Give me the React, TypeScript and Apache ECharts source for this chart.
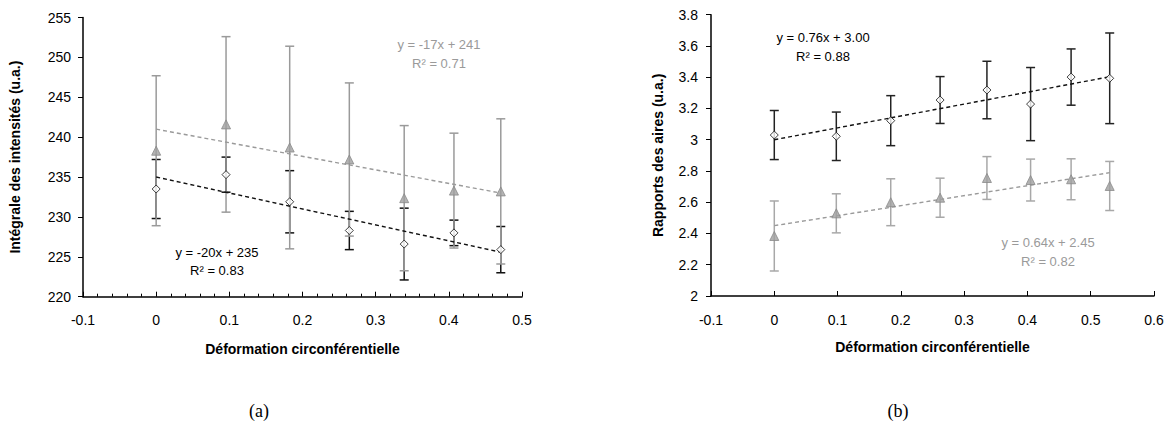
import React, { useEffect, useRef } from "react";
import * as echarts from "echarts";

// ---- Data: panel (a) ----
const xA = [0, 0.0955, 0.1825, 0.264, 0.339, 0.407, 0.471];
const intensBlack = [233.5, 235.3, 231.9, 228.3, 226.6, 228.0, 225.9];
const intensBlackErr = [3.7, 2.2, 3.9, 2.4, 4.5, 1.6, 2.9];
const intensGrey = [238.3, 241.6, 238.7, 237.2, 232.35, 233.3, 233.2];
const intensGreyErr = [9.4, 11.0, 12.7, 9.6, 9.1, 7.2, 9.1];
const fitA = { black: [-20, 235], grey: [-17, 241] };

// ---- Data: panel (b) ----
const xB = [0, 0.098, 0.184, 0.262, 0.336, 0.405, 0.469, 0.53];
const ratioBlack = [3.03, 3.022, 3.122, 3.254, 3.318, 3.228, 3.401, 3.393];
const ratioBlackErr = [0.157, 0.155, 0.16, 0.15, 0.184, 0.234, 0.18, 0.29];
const ratioGrey = [2.384, 2.529, 2.6, 2.629, 2.755, 2.742, 2.747, 2.704];
const ratioGreyErr = [0.224, 0.125, 0.15, 0.125, 0.137, 0.134, 0.131, 0.157];
const fitB = { black: [0.76, 3.0], grey: [0.64, 2.45] };

const labelsA = { blackEq: "y = -20x + 235", blackR2: "R² = 0.83", greyEq: "y = -17x + 241", greyR2: "R² = 0.71" };
const labelsB = { blackEq: "y = 0.76x + 3.00", blackR2: "R² = 0.88", greyEq: "y = 0.64x + 2.45", greyR2: "R² = 0.82" };

const FONT = "Liberation Sans, Arial, sans-serif";
const SERIF = "Liberation Serif, DejaVu Serif, serif";
const BLACK = "#111";
const GREY = "#9a9a9a";

function errData(xs: number[], ys: number[], es: number[]) {
  return xs.map((x, i) => [x, ys[i] - es[i], ys[i] + es[i]]);
}

function errSeries(data: number[][], color: string, idx: number, z: number) {
  return {
    type: "custom",
    xAxisIndex: idx,
    yAxisIndex: idx,
    z,
    silent: true,
    encode: { x: 0, y: [1, 2] },
    data,
    renderItem: (params: any, api: any) => {
      const x = api.value(0);
      const lo = api.value(1);
      const hi = api.value(2);
      const p1 = api.coord([x, hi]);
      const p2 = api.coord([x, lo]);
      const w = 4.5;
      const style = { stroke: color, lineWidth: 1.5 };
      return {
        type: "group",
        children: [
          { type: "line", shape: { x1: p1[0], y1: p1[1], x2: p2[0], y2: p2[1] }, style },
          { type: "line", shape: { x1: p1[0] - w, y1: p1[1], x2: p1[0] + w, y2: p1[1] }, style },
          { type: "line", shape: { x1: p2[0] - w, y1: p2[1], x2: p2[0] + w, y2: p2[1] }, style },
        ],
      };
    },
  };
}

function fitSeries(xs: number[], fit: number[], color: string, idx: number) {
  const x0 = xs[0];
  const x1 = xs[xs.length - 1];
  return {
    type: "line",
    xAxisIndex: idx,
    yAxisIndex: idx,
    z: 3,
    symbol: "none",
    silent: true,
    data: [
      [x0, fit[0] * x0 + fit[1]],
      [x1, fit[0] * x1 + fit[1]],
    ],
    lineStyle: { color, width: 1.4, type: [4, 3] },
  };
}

function pointSeries(xs: number[], ys: number[], kind: "black" | "grey", idx: number) {
  return {
    type: "scatter",
    xAxisIndex: idx,
    yAxisIndex: idx,
    z: 5,
    silent: true,
    symbol: kind === "black" ? "diamond" : "triangle",
    symbolSize: kind === "black" ? 8 : 9,
    itemStyle:
      kind === "black"
        ? { color: "#fff", borderColor: BLACK, borderWidth: 1 }
        : { color: "#a0a0a0", borderColor: "#8a8a8a", borderWidth: 1 },
    data: xs.map((x, i) => [x, ys[i]]),
  };
}

function xAxisCfg(idx: number, max: number, minor: boolean, nameGap: number, margin: number) {
  return {
    type: "value",
    gridIndex: idx,
    min: -0.1,
    max,
    interval: 0.1,
    name: "Déformation circonférentielle",
    nameLocation: "middle",
    nameGap,
    nameTextStyle: { fontFamily: FONT, fontSize: 14, fontWeight: "bold", color: "#000" },
    axisLine: { show: true, onZero: false, lineStyle: { color: "#000", width: 1.5 } },
    axisTick: { show: true, inside: true, length: 5, lineStyle: { color: "#000", width: 1 } },
    minorTick: { show: minor, splitNumber: 5, length: 3, lineStyle: { color: "#000", width: 1 } },
    splitLine: { show: false },
    minorSplitLine: { show: false },
    axisLabel: { fontFamily: FONT, fontSize: 14, color: "#000", margin },
  };
}

function yAxisCfg(idx: number, min: number, max: number, interval: number, name: string, nameGap: number, margin: number) {
  return {
    type: "value",
    gridIndex: idx,
    min,
    max,
    interval,
    name,
    nameLocation: "middle",
    nameGap,
    nameTextStyle: { fontFamily: FONT, fontSize: 14, fontWeight: "bold", color: "#000" },
    axisLine: { show: true, onZero: false, lineStyle: { color: "#000", width: 1.5 } },
    axisTick: { show: true, inside: false, length: 5, lineStyle: { color: "#000", width: 1 } },
    splitLine: { show: false },
    axisLabel: { fontFamily: FONT, fontSize: 14, color: "#000", margin },
  };
}

function txt(x: number, y: number, s: string, color: string, size = 13, family = FONT) {
  return {
    type: "text",
    x,
    y,
    silent: true,
    style: { text: s, fill: color, font: `${size}px ${family}`, textAlign: "center", textVerticalAlign: "middle" },
  };
}

export default function App() {
  const ref = useRef<HTMLDivElement>(null);
  useEffect(() => {
    document.body.style.margin = "0";
    if (!ref.current) return;
    const chart = echarts.init(ref.current, undefined, { renderer: "svg" });
    chart.setOption({
      animation: false,
      backgroundColor: "#fff",
      grid: [
        { left: 83, top: 17.5, width: 439, height: 279.2 },
        { left: 711, top: 14.7, width: 443, height: 281.3 },
      ],
      xAxis: [xAxisCfg(0, 0.5, true, 45, 16), xAxisCfg(1, 0.6, false, 44, 17)],
      yAxis: [
        yAxisCfg(0, 220, 255, 5, "Intégrale des intensités (u.a.)", 61, 12),
        yAxisCfg(1, 2, 3.8, 0.2, "Rapports des aires (u.a.)", 46, 13),
      ],
      series: [
        // panel (a): black error bars under grey ones
        errSeries(errData(xA, intensBlack, intensBlackErr), BLACK, 0, 2),
        errSeries(errData(xA, intensGrey, intensGreyErr), GREY, 0, 2.5),
        fitSeries(xA, fitA.grey, GREY, 0),
        fitSeries(xA, fitA.black, BLACK, 0),
        pointSeries(xA, intensGrey, "grey", 0),
        pointSeries(xA, intensBlack, "black", 0),
        // panel (b)
        errSeries(errData(xB, ratioBlack, ratioBlackErr), "#222", 1, 2),
        errSeries(errData(xB, ratioGrey, ratioGreyErr), "#a8a8a8", 1, 2),
        fitSeries(xB, fitB.grey, GREY, 1),
        fitSeries(xB, fitB.black, BLACK, 1),
        pointSeries(xB, ratioGrey, "grey", 1),
        pointSeries(xB, ratioBlack, "black", 1),
      ],
      graphic: [
        txt(439, 44, labelsA.greyEq, GREY),
        txt(439, 63, labelsA.greyR2, GREY),
        txt(217, 252, labelsA.blackEq, "#000"),
        txt(217, 270, labelsA.blackR2, "#000"),
        txt(823, 37, labelsB.blackEq, "#000"),
        txt(823, 56, labelsB.blackR2, "#000"),
        txt(1048, 242, labelsB.greyEq, GREY),
        txt(1048, 261, labelsB.greyR2, GREY),
        txt(259, 411, "(a)", "#000", 18, SERIF),
        txt(898, 411, "(b)", "#000", 18, SERIF),
      ],
    });
    return () => chart.dispose();
  }, []);
  return <div ref={ref} style={{ width: 1167, height: 426 }} />;
}
